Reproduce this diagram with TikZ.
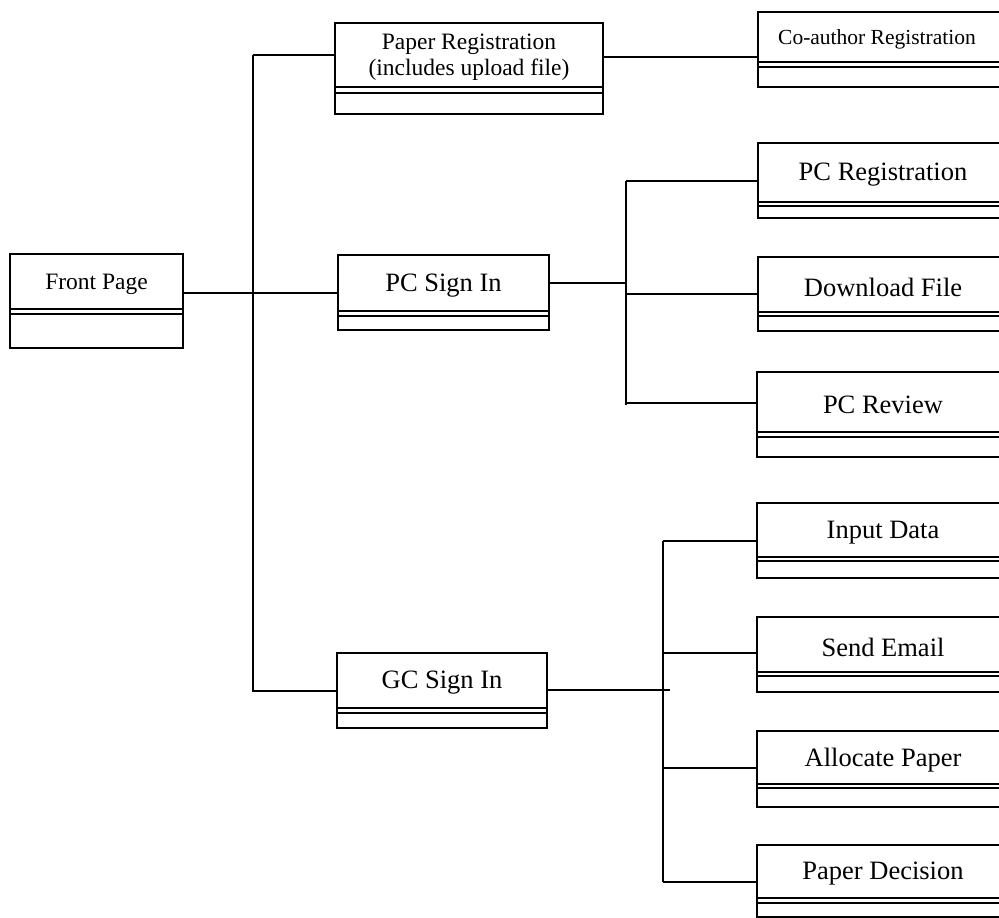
\documentclass[tikz,border=0pt]{standalone}
\usepackage{fontspec}
\setmainfont{Liberation Serif}
\begin{document}
\begin{tikzpicture}[x=1pt,y=-1pt,
  frame/.style={draw, line width=1.8pt, rectangle, inner sep=0pt, outer sep=0pt},
  rule/.style={line width=1.8pt},
  wire/.style={line width=1.7pt},
  big/.style={font=\fontsize{26.5}{29}\selectfont},
  mid/.style={font=\fontsize{23.5}{26}\selectfont},
  small/.style={font=\fontsize{21.5}{24}\selectfont}]

% canvas and clipping of the boxes that run off the right edge
\path[use as bounding box, clip] (0,0) rectangle (999,918);
\fill[white] (0,0) rectangle (999,918);

% class box: name, left, top, right, rule 1, rule 2, bottom, text style, text center x
\newcommand\umlclass[9]{%
  \node[frame, minimum width={#4-#2}, minimum height={#7-#3}, anchor=north west] (#1) at (#2,#3) {};
  \draw[rule] (#2,#5) -- (#4,#5);
  \draw[rule] (#2,#6) -- (#4,#6);
  \node[#8, align=center, inner sep=0pt, yshift=-2.5pt] (#1-t) at (#9,{(#3+#5)/2}) {\classtext};}
\newcommand\classtext{}

% left column
\renewcommand\classtext{Front Page}
\umlclass{fp}{10}{254}{183}{309}{314}{348}{mid}{96.5}

% middle column
\renewcommand\classtext{Paper Registration\\(includes upload file)}
\umlclass{pr}{335}{23}{603}{87}{93}{114}{mid}{469}
\renewcommand\classtext{PC Sign In}
\umlclass{pcs}{338}{255}{549}{311}{316}{330}{big}{443.5}
\renewcommand\classtext{GC Sign In}
\umlclass{gcs}{337}{653}{547}{708}{713}{728}{big}{442}

% right column
\renewcommand\classtext{Co-author Registration}
\umlclass{co}{758}{12}{1010}{62}{67}{87}{small}{877}
\renewcommand\classtext{PC Registration}
\umlclass{pcr}{758}{143}{1010}{202}{206}{218}{big}{883}
\renewcommand\classtext{Download File}
\umlclass{dl}{758}{257}{1010}{312}{316}{331}{big}{883}
\renewcommand\classtext{PC Review}
\umlclass{rev}{757}{372}{1010}{432}{437}{457}{big}{883}
\renewcommand\classtext{Input Data}
\umlclass{in}{757}{503}{1010}{557}{561}{578}{big}{883}
\renewcommand\classtext{Send Email}
\umlclass{se}{757}{617}{1010}{672}{676}{692}{big}{883}
\renewcommand\classtext{Allocate Paper}
\umlclass{ap}{757}{731}{1010}{784}{788}{807}{big}{883}
\renewcommand\classtext{Paper Decision}
\umlclass{pd}{757}{845}{1010}{898}{903}{917}{big}{883}

% junction points
\coordinate (t1) at (253,55);
\coordinate (t2) at (253,692);
\coordinate (p1) at (626,181);
\coordinate (p2) at (626,405);
\coordinate (g1) at (663,541);
\coordinate (g2) at (663,882);

% main trunk from the front page
\draw[wire] (t1) -- (t2);
\draw[wire] (t1) -- (pr.west |- t1);
\draw[wire] (fp.east |- 0,293) -- (pcs.west |- 0,293);
\draw[wire] (t2 |- 0,691) -- (gcs.west |- 0,691);

% paper registration to co-author registration
\draw[wire] (pr.east |- 0,57) -- (co.west |- 0,57);

% PC sign in branches
\draw[wire] (p1) -- (p2);
\draw[wire] (pcs.east |- 0,283) -- (p1 |- 0,283);
\draw[wire] (p1) -- (pcr.west |- p1);
\draw[wire] (p1 |- 0,294) -- (dl.west |- 0,294);
\draw[wire] (p1 |- 0,403) -- (rev.west |- 0,403);
\draw[wire] (p2) -- (p1 |- 0,403);

% GC sign in branches
\draw[wire] (g1) -- (g2);
\draw[wire] (gcs.east |- 0,690) -- (670,690);
\draw[wire] (g1) -- (in.west |- g1);
\draw[wire] (g1 |- 0,653) -- (se.west |- 0,653);
\draw[wire] (g1 |- 0,768) -- (ap.west |- 0,768);
\draw[wire] (g2) -- (pd.west |- g2);
\end{tikzpicture}
\end{document}
